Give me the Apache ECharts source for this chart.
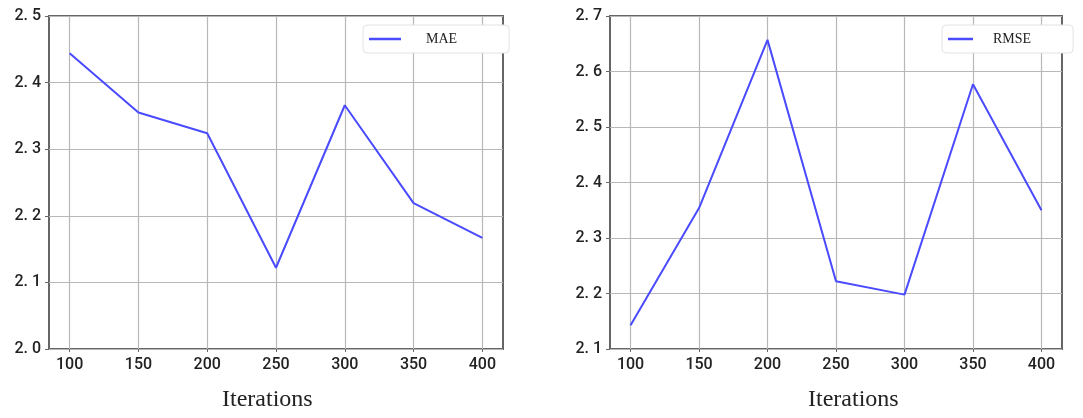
<!DOCTYPE html>
<html>
<head>
<meta charset="utf-8">
<script src="https://cdn.jsdelivr.net/npm/echarts@6/dist/echarts.min.js"></script>
<style>
  html, body { margin: 0; padding: 0; background: #fff; }
  #chart { width: 1083px; height: 418px; }
</style>
</head>
<body>
<div id="chart"></div>
<script>
// data
const iterations = [100, 150, 200, 250, 300, 350, 400];
const maeValues = [2.444, 2.355, 2.324, 2.122, 2.366, 2.219, 2.167];
const rmseValues = [2.143, 2.354, 2.657, 2.222, 2.198, 2.577, 2.350];

const tickFont = 'Roboto';
const serifFont = 'Liberation Serif';
const lineColor = '#4a4aff';
const gridColor = '#b8b8b8';
const frameColor = '#666';

let myChart = echarts.init(document.getElementById('chart'));

function pairs(vals) {
  return iterations.map((x, i) => [x, vals[i]]);
}

function xAxisCfg(idx) {
  return {
    type: 'value',
    gridIndex: idx,
    min: 85,
    max: 415,
    axisLine: { show: false },
    axisTick: { show: true, length: 3, customValues: iterations, lineStyle: { color: frameColor } },
    axisLabel: {
      customValues: iterations,
      margin: 8,
      color: '#222',
      fontSize: 16,
      fontWeight: 500,
      fontFamily: tickFont
    },
    splitLine: { show: true, lineStyle: { color: gridColor, width: 1.2 } }
  };
}

function yAxisCfg(idx, min, max) {
  return {
    type: 'value',
    gridIndex: idx,
    min: min,
    max: max,
    interval: 0.1,
    axisLine: { show: false },
    axisTick: { show: true, length: 4, lineStyle: { color: frameColor } },
    axisLabel: {
      margin: 8,
      color: '#222',
      fontSize: 16,
      fontWeight: 500,
      fontFamily: tickFont,
      formatter: v => v.toFixed(1).replace('.', '. ')
    },
    splitLine: { show: true, lineStyle: { color: gridColor, width: 1.2 } }
  };
}

function legendCfg(name, left, itemWidth, padRight, textPad) {
  return {
    data: [name],
    left: left,
    top: 25,
    orient: 'vertical',
    icon: 'rect',
    backgroundColor: '#fff',
    borderColor: '#e2e2e2',
    borderWidth: 1,
    borderRadius: 4,
    padding: [5, padRight, 5, 6],
    itemWidth: itemWidth,
    itemHeight: 2.5,
    textStyle: {
      fontFamily: serifFont,
      fontSize: 14,
      color: '#222',
      lineHeight: 14,
      padding: [4, 0, 0, textPad]
    }
  };
}

myChart.setOption({
  animation: false,
  grid: [
    { left: 49, top: 16, width: 454, height: 333, show: true, borderColor: frameColor, borderWidth: 2 },
    { left: 610, top: 16, width: 452, height: 333, show: true, borderColor: frameColor, borderWidth: 2 }
  ],
  xAxis: [xAxisCfg(0), xAxisCfg(1)],
  yAxis: [yAxisCfg(0, 2.0, 2.5), yAxisCfg(1, 2.1, 2.7)],
  legend: [
    legendCfg('MAE', 363, 32, 52, 20),
    legendCfg('RMSE', 942, 25, 42, 15)
  ],
  series: [
    {
      name: 'MAE',
      type: 'line',
      xAxisIndex: 0,
      yAxisIndex: 0,
      data: pairs(maeValues),
      symbol: 'none',
      color: lineColor,
      lineStyle: { color: lineColor, width: 2 }
    },
    {
      name: 'RMSE',
      type: 'line',
      xAxisIndex: 1,
      yAxisIndex: 1,
      data: pairs(rmseValues),
      symbol: 'none',
      color: lineColor,
      lineStyle: { color: lineColor, width: 2 }
    }
  ],
  graphic: [
    {
      type: 'text',
      left: 222,
      top: 388,
      style: { text: 'Iterations', fontFamily: serifFont, fontSize: 24, fill: '#222' }
    },
    {
      type: 'text',
      left: 808,
      top: 388,
      style: { text: 'Iterations', fontFamily: serifFont, fontSize: 24, fill: '#222' }
    }
  ]
});
</script>
</body>
</html>
